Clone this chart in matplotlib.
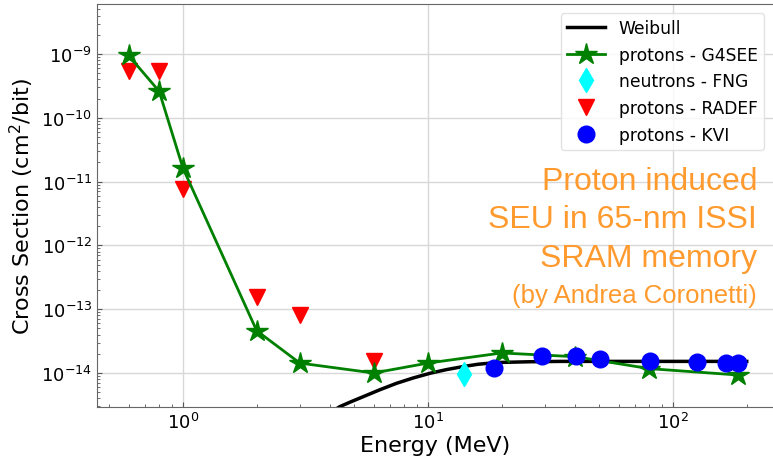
import numpy as np
import matplotlib
matplotlib.use("Agg")
import matplotlib.pyplot as plt

# Weibull fit
weib_E = [4.0, 4.37, 4.80, 5.44, 6.37, 7.45, 8.71, 10.2, 11.9, 13.9, 16.0, 19.1, 26.0, 35.0, 60.0, 100.0, 200.0]
weib_xs = [2.4e-15, 2.97e-15, 3.48e-15, 4.25e-15, 5.47e-15, 6.9e-15, 8.36e-15, 9.9e-15, 1.13e-14,
           1.26e-14, 1.37e-14, 1.46e-14, 1.50e-14, 1.52e-14, 1.52e-14, 1.52e-14, 1.52e-14]

# G4SEE simulation
g4_E = [0.6, 0.8, 1.0, 2.0, 3.0, 6.0, 10.0, 20.0, 40.0, 80.0, 184.0]
g4_xs = [9.5e-10, 2.6e-10, 1.63e-11, 4.6e-14, 1.43e-14, 1.0e-14, 1.43e-14, 2.06e-14, 1.8e-14, 1.17e-14, 9.3e-15]

# neutrons - FNG
fng_E = [14.0]
fng_xs = [9.7e-15]

# protons - RADEF
radef_E = [0.6, 0.8, 1.0, 2.0, 3.0, 6.0]
radef_xs = [5.5e-10, 5.5e-10, 7.7e-12, 1.58e-13, 8.1e-14, 1.55e-14]

# protons - KVI
kvi_E = [18.6, 29.2, 40.3, 50.3, 80.5, 125.0, 164.0, 185.0]
kvi_xs = [1.18e-14, 1.87e-14, 1.87e-14, 1.65e-14, 1.55e-14, 1.5e-14, 1.45e-14, 1.45e-14]

fig = plt.figure(figsize=(7.73, 4.60), dpi=100)
ax = fig.add_axes([97 / 773, 52 / 460, 676 / 773, 403 / 460])

ax.plot(weib_E, weib_xs, color='black', lw=2.5, label='Weibull', zorder=2)
ax.plot(g4_E, g4_xs, color='green', lw=2, marker='*', ms=16, label='protons - G4SEE', zorder=4)
ax.plot(fng_E, fng_xs, ls='none', color='cyan', marker='d', ms=12, label='neutrons - FNG', zorder=3)
ax.plot(radef_E, radef_xs, ls='none', color='red', marker='v', ms=12, label='protons - RADEF', zorder=3)
ax.plot(kvi_E, kvi_xs, ls='none', color='blue', marker='o', ms=12, label='protons - KVI', zorder=5)

ax.set_xscale('log')
ax.set_yscale('log')
ax.set_xlim(0.446, 256)
ax.set_ylim(2.93e-15, 6.08e-9)

ax.grid(True, which='major', color='#d8d8d8', lw=1)
ax.set_axisbelow(True)
ax.tick_params(which='both', direction='in', labelsize=13, color='#555555')
for s in ['left', 'bottom', 'top']:
    ax.spines[s].set_color('#666666')
ax.spines['right'].set_visible(False)

ax.set_xlabel('Energy (MeV)', fontsize=16, labelpad=2)
ax.set_ylabel('Cross Section (cm$^2$/bit)', fontsize=16)

leg = ax.legend(loc='upper right', fontsize=12.3, labelspacing=0.5, handlelength=2.2)
leg.get_frame().set_edgecolor('#dddddd')

# annotation, one line at a time (baselines in pixels from top)
orange = '#ff9a2e'
note_lines = ['Proton induced', 'SEU in 65-nm ISSI', 'SRAM memory']
note_base = [190, 228.5, 267]
for line, yb in zip(note_lines, note_base):
    fig.text(757 / 773, (460 - yb) / 460, line, ha='right', va='baseline',
             fontsize=23, color=orange, family='Liberation Sans')
fig.text(757 / 773, (460 - 303) / 460, '(by Andrea Coronetti)', ha='right', va='baseline',
         fontsize=18.5, color=orange, family='Liberation Sans')

fig.savefig('out.png', dpi=100)
